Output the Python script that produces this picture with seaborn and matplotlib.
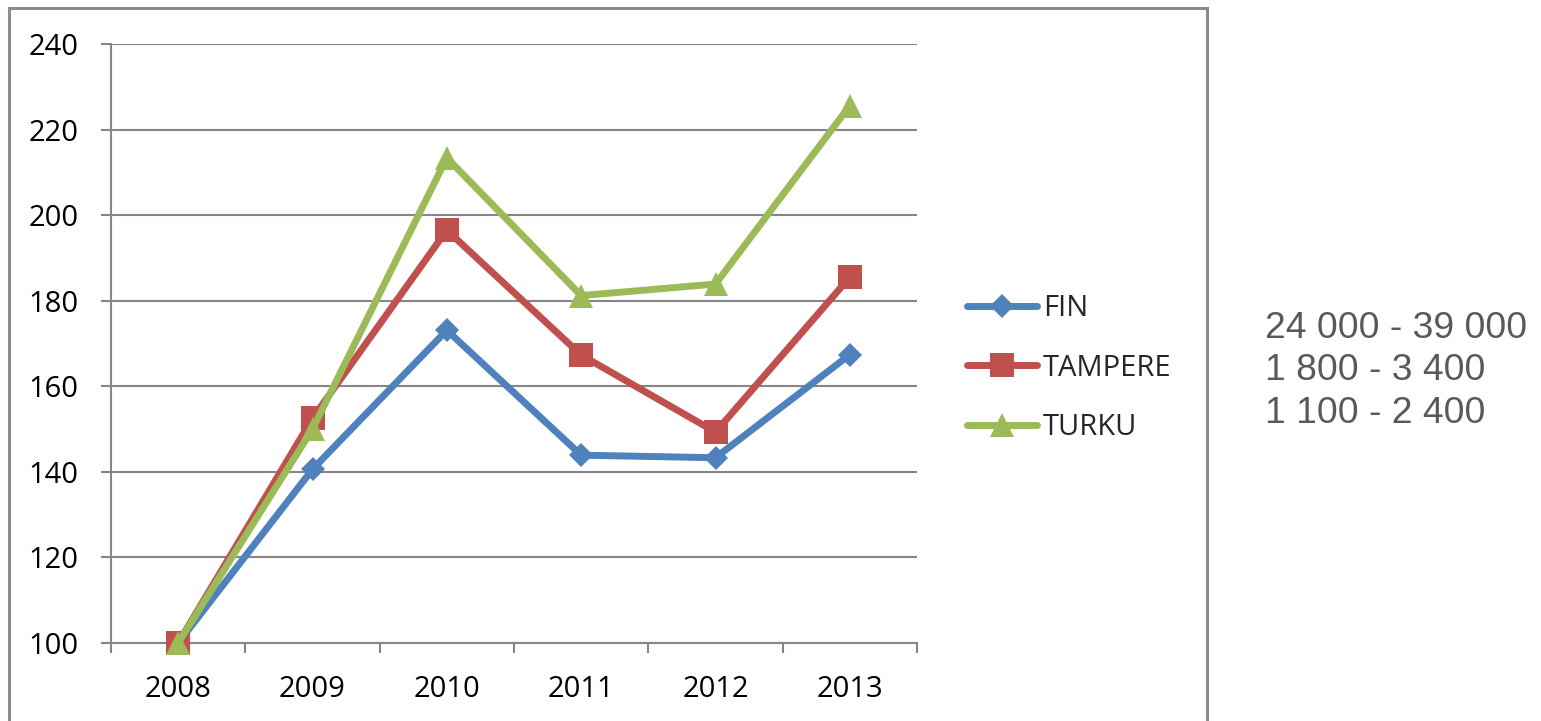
import pandas as pd
import seaborn as sns
import matplotlib.pyplot as plt
from matplotlib.patches import Rectangle

# data (index, 2008 = 100)
years = [2008, 2009, 2010, 2011, 2012, 2013]
fin = [100, 140.6, 173.1, 143.9, 143.3, 167.4]
tampere = [100, 152.5, 196.5, 167.3, 149.3, 185.5]
turku = [100, 150.0, 213.4, 181.2, 183.9, 225.6]
side_text = ["24 000 - 39 000", "1 800 - 3 400", "1 100 - 2 400"]

df = pd.DataFrame({"year": years * 3,
                   "value": fin + tampere + turku,
                   "city": ["FIN"] * 6 + ["TAMPERE"] * 6 + ["TURKU"] * 6})

sns.set_theme(style="white")
plt.rcParams["font.family"] = ["Open Sans", "DejaVu Sans"]

colors = {"FIN": "#4F81BD", "TAMPERE": "#C0504D", "TURKU": "#9BBB59"}
markers = {"FIN": "D", "TAMPERE": "s", "TURKU": "^"}
msizes = {"FIN": 12.5, "TAMPERE": 17.5, "TURKU": 17.5}
grid_c = "#868686"

fig = plt.figure(figsize=(15.41, 7.21), dpi=100)
ax = fig.add_axes([111 / 1541, 1 - 643 / 721, (917 - 111) / 1541, (643 - 44) / 721])

for city in ["FIN", "TAMPERE", "TURKU"]:
    sns.lineplot(data=df[df.city == city], x="year", y="value", color=colors[city],
                 marker=markers[city], markersize=msizes[city], markeredgewidth=0,
                 linewidth=5, label=city, ax=ax, errorbar=None, clip_on=False,
                 solid_joinstyle="round", solid_capstyle="round", zorder=3)

ax.set_xlim(years[0] - 0.5, years[-1] + 0.5)
ax.set_ylim(100, 240)
ax.set_yticks(range(100, 241, 20))
ax.set_xticks(years)
ax.set_xticklabels([str(y) for y in years])
ax.set_xticks([y - 0.5 for y in years] + [years[-1] + 0.5], minor=True)
ax.set_xlabel("")
ax.set_ylabel("")

ax.grid(axis="y", color=grid_c, linewidth=1.5)
ax.set_axisbelow(True)
for s in ["top", "right"]:
    ax.spines[s].set_visible(False)
for s in ["left", "bottom"]:
    ax.spines[s].set_color(grid_c)
    ax.spines[s].set_linewidth(1.5)

ax.tick_params(axis="y", which="major", direction="out", length=7.2, width=1.5,
               color=grid_c, pad=16, labelsize=21, labelcolor="black", left=True)
ax.tick_params(axis="x", which="major", length=0, pad=23, labelsize=21, labelcolor="black")
ax.tick_params(axis="x", which="minor", direction="out", length=7.2, width=1.5,
               color=grid_c, bottom=True)

ax.legend(loc="center left", bbox_to_anchor=(967 / 1541, 1 - 368 / 721),
          bbox_transform=fig.transFigure, frameon=False, fontsize=21,
          handlelength=2.4, handletextpad=0.2, labelspacing=1.05,
          borderpad=0, borderaxespad=0)

# chart frame
fig.patches.append(Rectangle((9 / 1541, -0.2), (1207 - 9) / 1541, 1.2 - 8 / 721,
                             transform=fig.transFigure, fill=False,
                             edgecolor="#8C8C8C", linewidth=2.2))

for i, t in enumerate(side_text):
    fig.text(1265 / 1541, 1 - (338 + i * 42.5) / 721, t, ha="left", va="baseline",
             fontsize=26.8, color="#595959", family=["Liberation Sans", "DejaVu Sans"])

fig.savefig("out.png", dpi=100)
